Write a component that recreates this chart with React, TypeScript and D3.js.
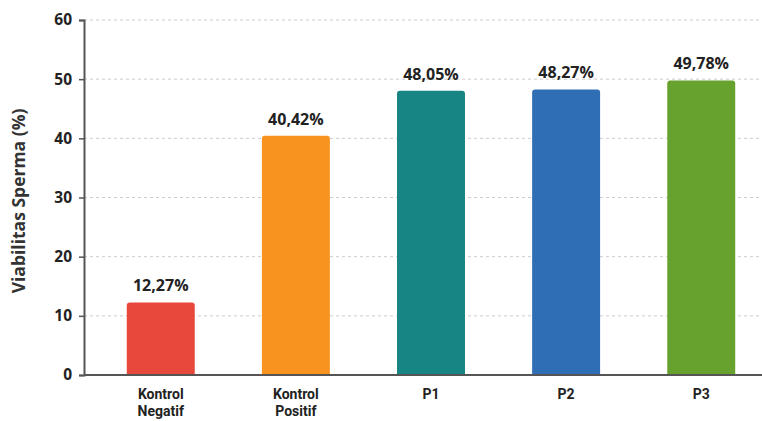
import React, { useRef, useEffect } from 'react';
import * as d3 from 'd3';

const kategori = ['Kontrol Negatif', 'Kontrol Positif', 'P1', 'P2', 'P3'];
const nilai = [12.27, 40.42, 48.05, 48.27, 49.78];
const warna = ['#E8473B', '#F7931E', '#178583', '#2F6DB5', '#67A22F'];
const ticksY = [0, 10, 20, 30, 40, 50, 60];

const App: React.FC = () => {
  const svgRef = useRef<SVGSVGElement | null>(null);

  useEffect(() => {
    if (!svgRef.current) return;
    const width = 762;
    const height = 421;
    const left = 84;
    const bottom = 375;
    const top = 20;
    const font = '"Open Sans", sans-serif';

    const svg = d3.select<SVGSVGElement, unknown>(svgRef.current)
      .attr('width', width)
      .attr('height', height)
      .style('background', '#fff')
      .style('font-family', font);
    svg.selectAll('*').remove();

    const x = d3.scaleBand<string>()
      .domain(kategori)
      .range([93, 769])
      .paddingInner(0.497)
      .paddingOuter(0.25);

    const y = d3.scaleLinear().domain([0, 60]).range([bottom, top]);

    // garis bantu
    svg.append('g')
      .selectAll('line')
      .data(ticksY.filter((t) => t > 0))
      .enter().append('line')
      .attr('x1', left)
      .attr('x2', width - 2)
      .attr('y1', (d) => y(d))
      .attr('y2', (d) => y(d))
      .attr('stroke', '#cccccc')
      .attr('stroke-width', 1)
      .attr('stroke-dasharray', '3,3');

    // batang
    svg.append('g')
      .selectAll('path')
      .data(nilai)
      .enter().append('path')
      .attr('d', (d, i) => {
        const x0 = x(kategori[i]) as number;
        const w = x.bandwidth();
        const y0 = y(d);
        const r = 3;
        return `M${x0},${bottom}V${y0 + r}Q${x0},${y0} ${x0 + r},${y0}H${x0 + w - r}Q${x0 + w},${y0} ${x0 + w},${y0 + r}V${bottom}Z`;
      })
      .attr('fill', (d, i) => warna[i]);

    // label nilai
    svg.append('g')
      .selectAll('text')
      .data(nilai)
      .enter().append('text')
      .attr('x', (d, i) => (x(kategori[i]) as number) + x.bandwidth() / 2)
      .attr('y', (d) => y(d) - 11)
      .attr('text-anchor', 'middle')
      .style('font-size', '16px')
      .style('font-weight', 'bold')
      .style('fill', '#222')
      .text((d) => d.toFixed(2).replace('.', ',') + '%');

    // sumbu y
    const sumbuY = svg.append('g')
      .attr('transform', `translate(${left},0)`)
      .call(d3.axisLeft(y).tickValues(ticksY).tickSize(5).tickPadding(7));
    sumbuY.select('.domain').attr('stroke', '#555').attr('stroke-width', 2);
    sumbuY.selectAll('.tick line').attr('stroke', '#555').attr('stroke-width', 1.5);
    sumbuY.selectAll('.tick text')
      .style('font-family', font)
      .style('font-size', '15.5px')
      .style('font-weight', 'bold')
      .style('fill', '#222');

    // sumbu x
    svg.append('line')
      .attr('x1', left)
      .attr('x2', width)
      .attr('y1', bottom)
      .attr('y2', bottom)
      .attr('stroke', '#555')
      .attr('stroke-width', 2);

    // label kategori, satu teks per baris
    const barisLabel = kategori.flatMap((d) =>
      d.split(' ').map((k, i) => ({ kat: d, teks: k, baris: i })));
    svg.append('g')
      .selectAll('text')
      .data(barisLabel)
      .enter().append('text')
      .attr('x', (d) => (x(d.kat) as number) + x.bandwidth() / 2)
      .attr('y', (d) => 399 + d.baris * 16.5)
      .attr('text-anchor', 'middle')
      .style('font-family', 'Roboto, sans-serif')
      .style('font-size', '14px')
      .style('font-weight', 'bold')
      .style('fill', '#222')
      .text((d) => d.teks);

    // judul sumbu y
    svg.append('text')
      .attr('transform', `translate(25,201) rotate(-90)`)
      .attr('text-anchor', 'middle')
      .style('font-size', '17.5px')
      .style('font-weight', 'bold')
      .style('fill', '#333')
      .text('Viabilitas Sperma (%)');
  }, []);

  return (
    <svg ref={svgRef} style={{ position: 'absolute', left: 0, top: 0 }}></svg>
  );
};

export default App;
